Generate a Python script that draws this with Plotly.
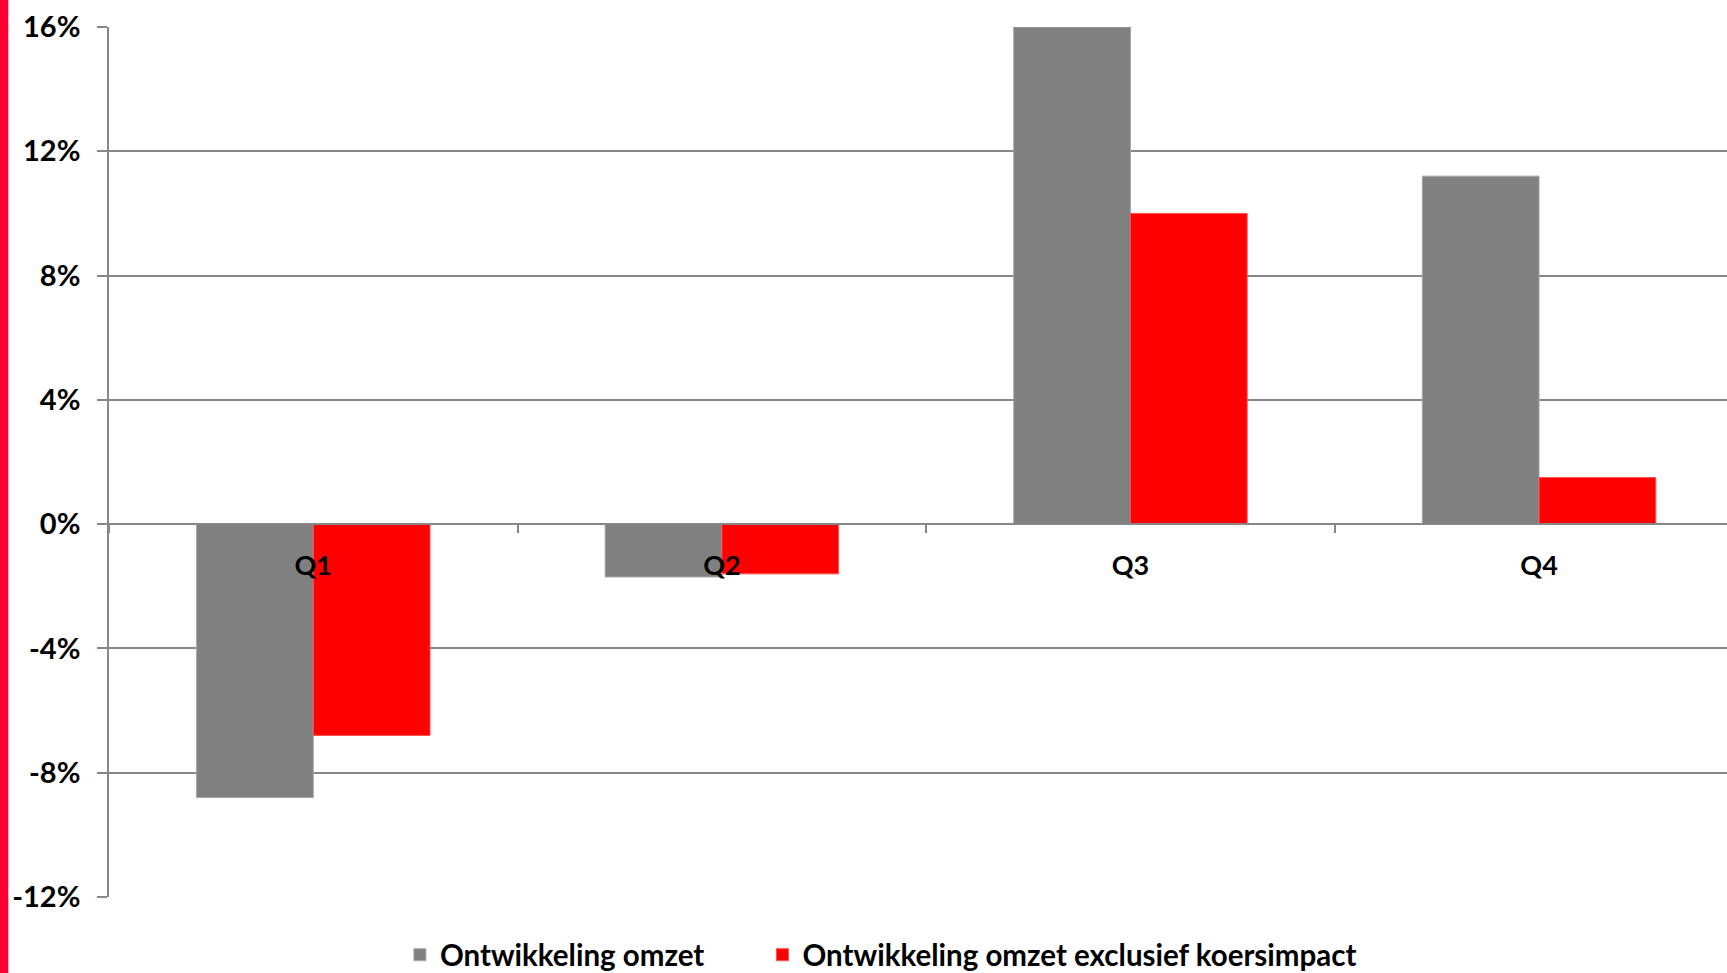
import plotly.graph_objects as go

# quarters and growth figures (percent)
quarters = ['Q1', 'Q2', 'Q3', 'Q4']
omzet = [-8.8, -1.7, 16.0, 11.2]
omzet_excl_koers = [-6.8, -1.6, 10.0, 1.5]

y_tickvals = [-12, -8, -4, 0, 4, 8, 12, 16]
y_ticktext = ['-12%', '-8%', '-4%', '0%', '4%', '8%', '12%', '16%']

font_x = dict(family='Lato', size=27, color='black', weight='bold')
font_y = dict(family='Lato', size=29, color='black', weight='bold')
font_legend = dict(family='Lato', size=29.5, color='black', weight='bold')
grid_col = '#878787'

fig = go.Figure()
fig.add_trace(go.Bar(x=quarters, y=omzet, name='Ontwikkeling omzet', legend='legend',
                     marker=dict(color='#808080', line=dict(color='#a6a6a6', width=1))))
fig.add_trace(go.Bar(x=quarters, y=omzet_excl_koers, name='Ontwikkeling omzet exclusief koersimpact',
                     legend='legend2',
                     marker=dict(color='#ff0000', line=dict(color='#ff5050', width=1))))

# red strip on the left edge
fig.add_shape(type='rect', xref='paper', yref='paper', x0=-0.0674, x1=-0.0622, y0=-0.2, y1=1.2,
              fillcolor='#ff0033', line=dict(width=0), layer='above')

leg = dict(orientation='h', xanchor='left', y=-0.0667, yanchor='middle',
           font=font_legend, itemwidth=30, bgcolor='rgba(0,0,0,0)')

fig.update_layout(
    width=1727, height=973,
    margin=dict(l=109, r=0, t=27, b=76, autoexpand=False),
    paper_bgcolor='white', plot_bgcolor='white',
    barmode='group', bargap=0.4286, bargroupgap=0,
    font=font_x,
    showlegend=True,
    legend=dict(leg, x=0.1798),
    legend2=dict(leg, x=0.4039),
)

# category axis crosses at 0
zero_pos = (0 - y_tickvals[0]) / (y_tickvals[-1] - y_tickvals[0])
fig.update_xaxes(anchor='free', position=zero_pos, range=[-0.5, 3.46],
                 showline=True, linecolor=grid_col, linewidth=1.5,
                 ticks='outside', tickson='boundaries', ticklen=8, tickcolor=grid_col, tickwidth=1.5,
                 showgrid=False, tickfont=font_x, ticklabelstandoff=18)

fig.update_yaxes(range=[-12, 16], tickvals=y_tickvals, ticktext=y_ticktext,
                 showgrid=True, gridcolor=grid_col, gridwidth=1.5, zeroline=False,
                 showline=True, linecolor=grid_col, linewidth=1.5,
                 ticks='outside', ticklen=10, tickcolor=grid_col, tickwidth=1.5,
                 ticklabelstandoff=11, tickfont=font_y)

fig.write_html('out.html', config={'displayModeBar': False},
               post_script="document.body.style.margin='0px';")
